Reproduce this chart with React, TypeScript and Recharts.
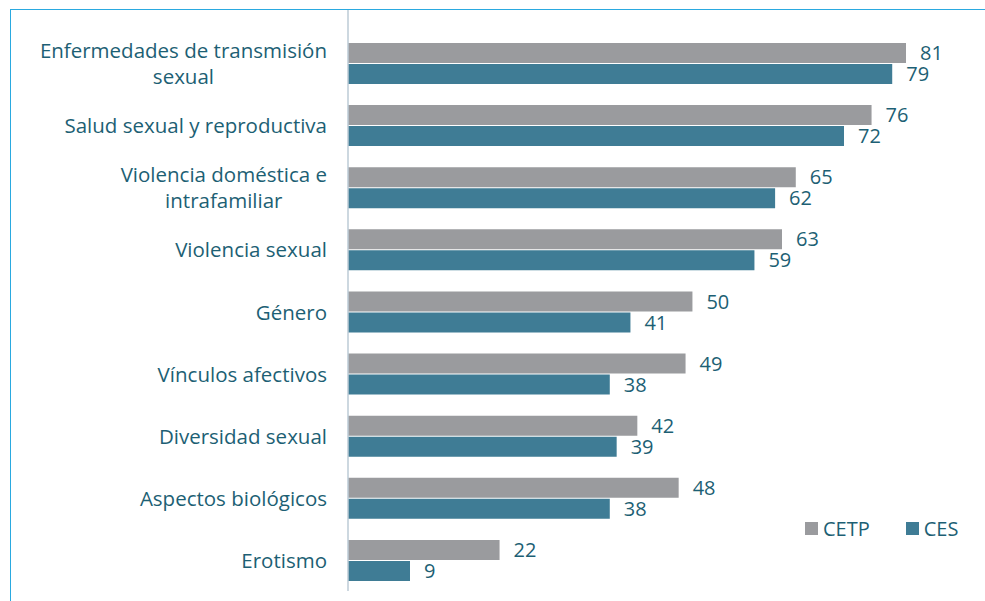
import React from "react";
import { BarChart, Bar, XAxis, YAxis, LabelList } from "recharts";

const categories = [
  "Enfermedades de transmisión|sexual",
  "Salud sexual y reproductiva",
  "Violencia doméstica e|intrafamiliar",
  "Violencia sexual",
  "Género",
  "Vínculos afectivos",
  "Diversidad sexual",
  "Aspectos biológicos",
  "Erotismo",
];
const cetp = [81, 76, 65, 63, 50, 49, 42, 48, 22];
const ces = [79, 72, 62, 59, 41, 38, 39, 38, 9];

const data = categories.map((name, i) => ({ name, CETP: cetp[i], CES: ces[i] }));

const TEXT = "#1d5f74";
const GRAY = "#9a9b9e";
const TEAL = "#3f7c95";
const FONT = "'Open Sans', sans-serif";
const FONT_SIZE = 20.5;
const LABEL_SIZE = 20;

let ctx: CanvasRenderingContext2D | null = null;
function measure(s: string) {
  if (!ctx) ctx = document.createElement("canvas").getContext("2d");
  if (!ctx) return s.length * 10;
  ctx.font = `${FONT_SIZE}px ${FONT}`;
  return ctx.measureText(s).width;
}

function CategoryTick(props: any) {
  const { x, y, payload } = props;
  const lines: string[] = String(payload.value).split("|");
  const widest = Math.max(...lines.map(measure));
  const right = x - 13;
  const cx = right - widest / 2;
  const lh = 26;
  const y0 = y - ((lines.length - 1) * lh) / 2;
  return (
    <text
      fill={TEXT}
      fontSize={FONT_SIZE}
      fontFamily={FONT}
      textAnchor="middle"
      dominantBaseline="central"
    >
      {lines.map((l, i) => (
        <tspan key={i} x={cx} y={y0 + i * lh}>
          {l}
        </tspan>
      ))}
    </text>
  );
}

export default function App() {
  return (
    <div
      style={{
        position: "absolute",
        left: 0,
        top: 0,
        width: 985,
        height: 601,
        background: "#fff",
        overflow: "hidden",
        fontFamily: FONT,
      }}
    >
      <div
        style={{
          position: "absolute",
          left: 10,
          top: 9,
          width: 1000,
          height: 620,
          border: "1.5px solid #2aa9e0",
        }}
      />
      <BarChart
        width={985}
        height={601}
        data={data}
        layout="vertical"
        margin={{ top: 10, right: 17, bottom: 10, left: 0 }}
        barGap={1}
        barCategoryGap={10}
      >
        <XAxis type="number" domain={[0, 90]} hide />
        <YAxis
          type="category"
          dataKey="name"
          width={348}
          padding={{ top: 22, bottom: 0 }}
          axisLine={{ stroke: "#bccbd6", strokeWidth: 1.5 }}
          tickLine={false}
          interval={0}
          tick={<CategoryTick />}
        />
        <Bar dataKey="CETP" fill={GRAY} barSize={20} isAnimationActive={false}>
          <LabelList
            dataKey="CETP"
            position="right"
            offset={14}
            fill={TEXT}
            fontSize={LABEL_SIZE}
            fontFamily={FONT}
          />
        </Bar>
        <Bar dataKey="CES" fill={TEAL} barSize={20} isAnimationActive={false}>
          <LabelList
            dataKey="CES"
            position="right"
            offset={14}
            fill={TEXT}
            fontSize={LABEL_SIZE}
            fontFamily={FONT}
          />
        </Bar>
      </BarChart>
      <div
        style={{
          position: "absolute",
          left: 805,
          top: 515,
          display: "flex",
          alignItems: "center",
          fontSize: LABEL_SIZE,
          color: TEXT,
        }}
      >
        <span style={{ width: 13, height: 13, background: GRAY, marginRight: 5 }} />
        <span style={{ marginRight: 36 }}>CETP</span>
        <span style={{ width: 13, height: 13, background: TEAL, marginRight: 5 }} />
        <span>CES</span>
      </div>
    </div>
  );
}
